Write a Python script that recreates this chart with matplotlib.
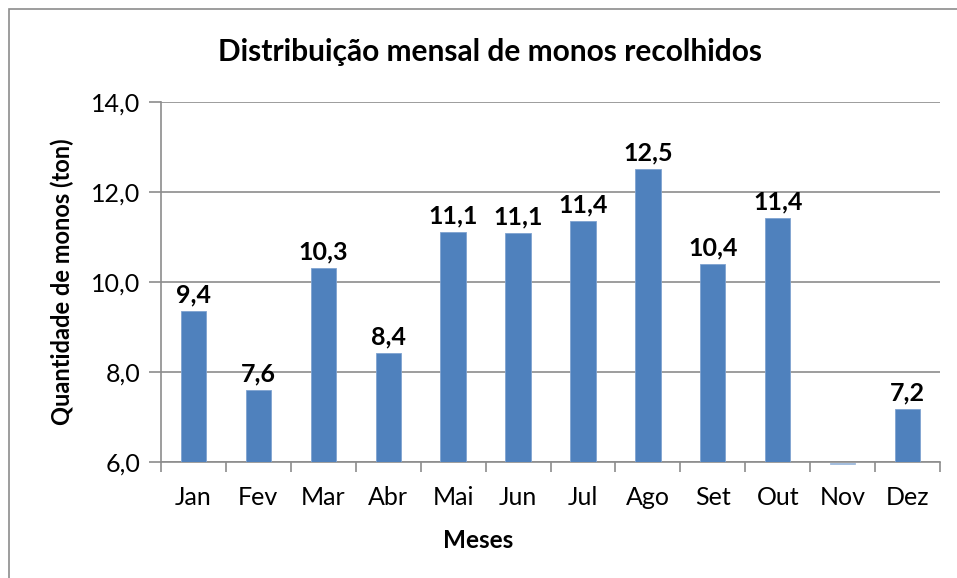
import numpy as np
import matplotlib
matplotlib.use("Agg")
import matplotlib.pyplot as plt
from matplotlib.patches import Rectangle

# dados
meses = ['Jan', 'Fev', 'Mar', 'Abr', 'Mai', 'Jun', 'Jul', 'Ago', 'Set', 'Out', 'Nov', 'Dez']
toneladas = [9.36, 7.6, 10.32, 8.42, 11.12, 11.08, 11.36, 12.52, 10.4, 11.42, 6.0, 7.17]
y_ticks = [6.0, 8.0, 10.0, 12.0, 14.0]

plt.rcParams['font.family'] = ['Lato', 'DejaVu Sans']

fig = plt.figure(figsize=(9.57, 5.78), dpi=100)
ax = fig.add_axes([161 / 957, 1 - 462 / 578, 779 / 957, 360 / 578])

# moldura do gráfico (só aparecem as bordas esquerda e superior)
fig.patches.append(Rectangle((9 / 957, -0.05), 1.2, 1 - 9 / 578 + 0.05,
                             transform=fig.transFigure, fill=False,
                             edgecolor='#8c8c8c', linewidth=1.2))

x = np.arange(len(meses))
azul = '#4f81bd'
barras = ax.bar(x, np.array(toneladas) - 6.0, bottom=6.0, width=0.39,
                color=azul, edgecolor='#7fa3d0', linewidth=0.6, zorder=3)

for xi, v, b in zip(x, toneladas, barras):
    if v <= 6.0:
        # mês sem altura: só uma linha fina sob o eixo
        b.set_clip_on(False)
        b.set_y(5.96)
        b.set_height(0.02)
        b.set_edgecolor('#9db9dc')
        b.set_facecolor('#9db9dc')
        continue
    ax.text(xi, v + 0.1, f'{v:.1f}'.replace('.', ','), ha='center', va='bottom',
            fontsize=18, fontweight='bold', color='black')

ax.set_xlim(-0.5, len(meses) - 0.5)
ax.set_ylim(6.0, 14.0)
ax.set_yticks(y_ticks)
ax.set_yticklabels([f'{t:.1f}'.replace('.', ',') for t in y_ticks], fontsize=18)
ax.set_xticks(x)
ax.set_xticklabels(meses, fontsize=18)
ax.set_xticks(np.arange(len(meses) + 1) - 0.5, minor=True)

ax.grid(axis='y', color='#8c8c8c', linewidth=1.2, zorder=0)
ax.tick_params(axis='y', length=9, width=1.2, color='#8c8c8c', pad=6)
ax.tick_params(axis='x', which='major', length=0, pad=17)
ax.tick_params(axis='x', which='minor', length=7, width=1.2, color='#8c8c8c')

for s in ['top', 'right']:
    ax.spines[s].set_visible(False)
for s in ['left', 'bottom']:
    ax.spines[s].set_color('#8c8c8c')
    ax.spines[s].set_linewidth(1.2)

ax.set_ylabel('Quantidade de monos (ton)', fontsize=17, fontweight='bold', labelpad=12)
fig.text(478 / 957, 1 - 540 / 578, 'Meses', ha='center', va='center',
         fontsize=17.5, fontweight='bold')
fig.text(490 / 957, 1 - 52 / 578, 'Distribuição mensal de monos recolhidos',
         ha='center', va='center', fontsize=21.5, fontweight='bold')

fig.savefig('out.png', dpi=100)
